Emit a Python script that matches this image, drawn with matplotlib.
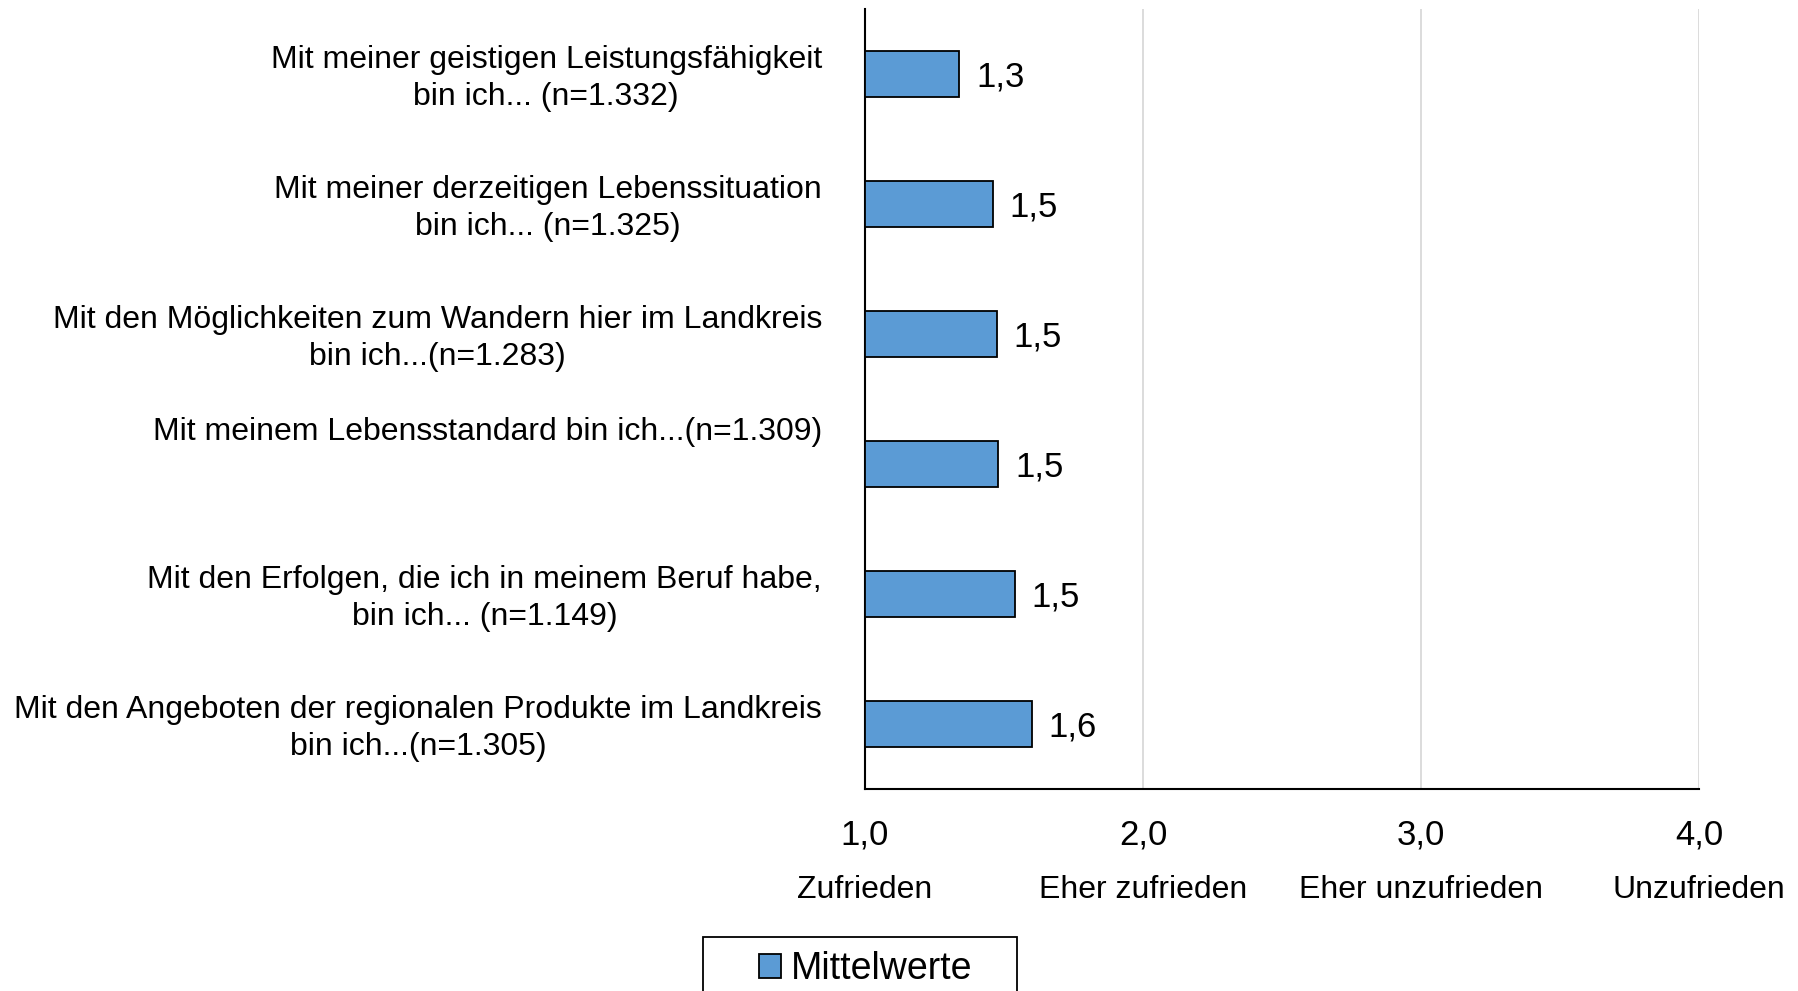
import matplotlib.pyplot as plt
from matplotlib.patches import Rectangle
from matplotlib.transforms import ScaledTranslation

plt.rcParams["font.family"] = ["Liberation Sans", "DejaVu Sans"]

# Kategorien (von oben nach unten)
categories = [
    "Mit meiner geistigen Leistungsfähigkeit\nbin ich... (n=1.332)",
    "Mit meiner derzeitigen Lebenssituation\nbin ich... (n=1.325)",
    "Mit den Möglichkeiten zum Wandern hier im Landkreis\nbin ich...(n=1.283)",
    "Mit meinem Lebensstandard bin ich...(n=1.309)\n\n",
    "Mit den Erfolgen, die ich in meinem Beruf habe,\nbin ich... (n=1.149)",
    "Mit den Angeboten der regionalen Produkte im Landkreis\nbin ich...(n=1.305)",
]
values = [1.34, 1.46, 1.475, 1.48, 1.54, 1.60]
value_labels = ["1,3", "1,5", "1,5", "1,5", "1,5", "1,6"]

x_ticks = [1.0, 2.0, 3.0, 4.0]
x_tick_labels = ["1,0", "2,0", "3,0", "4,0"]
x_scale_labels = ["Zufrieden", "Eher zufrieden", "Eher unzufrieden", "Unzufrieden"]

BAR_COLOR = "#5B9BD5"

fig = plt.figure(figsize=(17.99, 9.91), dpi=100)
ax = fig.add_axes([0.4808, 0.2038, 0.4636, 0.7872])

ypos = list(range(len(categories)))
bars = ax.barh(ypos, [v - 1.0 for v in values], left=1.0, height=0.355,
               color=BAR_COLOR, edgecolor="black", linewidth=1.3,
               label="Mittelwerte", zorder=3)

for y, v, lab in zip(ypos, values, value_labels):
    ax.annotate(lab, xy=(v, y), xytext=(12, -2.5), textcoords="offset points",
                va="center", ha="left", fontsize=25)

ax.set_xlim(1.0, 4.0)
ax.set_ylim(len(categories) - 0.5, -0.5)
ax.set_yticks(ypos)
ax.set_yticklabels(categories, fontsize=23, multialignment="center",
                   linespacing=1.3)
ax.set_xticks(x_ticks)
ax.set_xticklabels(x_tick_labels, fontsize=25)
ax.tick_params(axis="y", length=0, pad=31)
ax.tick_params(axis="x", length=0, pad=21.5)

# Kategorienbeschriftung etwas nach oben schieben
shift_up = ScaledTranslation(0, 1.7 / 72, fig.dpi_scale_trans)
for lbl in ax.get_yticklabels():
    lbl.set_transform(lbl.get_transform() + shift_up)

for x, lab in zip(x_ticks, x_scale_labels):
    ax.annotate(lab, xy=(x, 0), xycoords=("data", "axes fraction"),
                xytext=(0, -72.5), textcoords="offset points",
                ha="center", va="center", fontsize=23)

ax.grid(axis="x", color="#d9d9d9", linewidth=1.3, zorder=0)
ax.set_axisbelow(True)
for side in ["top", "right"]:
    ax.spines[side].set_visible(False)
for side in ["left", "bottom"]:
    ax.spines[side].set_color("black")
    ax.spines[side].set_linewidth(1.5)

# Legende mit eigenem Rahmen (unten abgeschnitten wie im Original)
fig.legend(handles=[bars], labels=["Mittelwerte"], loc="center",
           bbox_to_anchor=(0.4812, 0.0218), fontsize=27, frameon=False,
           handlelength=0.6, handleheight=0.6, handletextpad=0.25,
           borderpad=0, borderaxespad=0)
fig.patches.append(Rectangle((703 / 1799, -0.05), 314 / 1799, 0.05 + 0.0545,
                             transform=fig.transFigure, fill=False,
                             edgecolor="black", linewidth=1.3))

fig.savefig("out.png", dpi=100)
